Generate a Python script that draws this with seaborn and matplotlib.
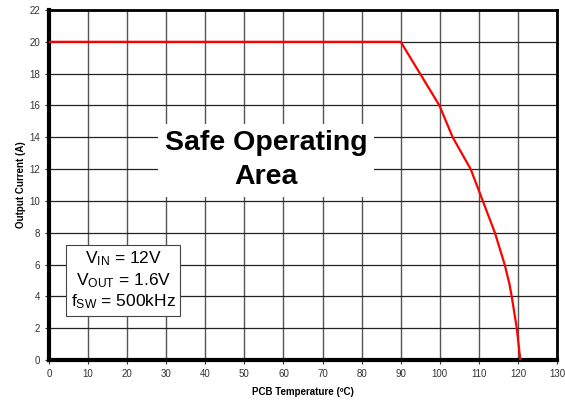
import numpy as np
import pandas as pd
import matplotlib.pyplot as plt
import seaborn as sns

# derating curve
temp_c = [0, 90, 99.9, 103.3, 107.9, 111.0, 114.1, 116.6, 117.8, 118.4, 119.7, 120.6]
current_a = [20, 20, 16, 14, 12, 10, 8, 6, 4.8, 4, 2, 0]
x_ticks = list(range(0, 131, 10))
y_ticks = list(range(0, 23, 2))

df = pd.DataFrame({'temp': temp_c, 'current': current_a})

sns.set_style('white')
plt.rcParams['font.family'] = ['Liberation Sans', 'DejaVu Sans']
plt.rcParams['mathtext.fontset'] = 'custom'
plt.rcParams['mathtext.rm'] = 'Liberation Sans'
plt.rcParams['text.color'] = 'black'
plt.rcParams['axes.labelcolor'] = 'black'

fig = plt.figure(figsize=(5.65, 4.0), dpi=100)
ax = fig.add_axes([0.0867, 0.1, 0.8992, 0.875])

sns.lineplot(x='temp', y='current', data=df, ax=ax, color='#ff0000',
             linewidth=1.6, sort=False, zorder=3)

ax.set_xlim(0, 130)
ax.set_ylim(0, 22)
ax.set_xticks(x_ticks)
ax.set_yticks(y_ticks)
ax.grid(True, axis='x', color='#555555', linewidth=1.0)
ax.grid(True, axis='y', color='#222222', linewidth=0.9)
ax.set_axisbelow(True)

for side in ['top', 'right']:
    ax.spines[side].set_linewidth(2.0)
    ax.spines[side].set_color('black')
for side in ['left', 'bottom']:
    ax.spines[side].set_linewidth(3.0)
    ax.spines[side].set_color('black')

ax.tick_params(axis='both', labelsize=7, colors='#333333', length=3,
               width=0.8, direction='out', bottom=True, left=True)
ax.set_xlabel('PCB Temperature (ºC)', fontsize=7, fontweight='bold', labelpad=6)
ax.set_ylabel('Output Current (A)', fontsize=7, fontweight='bold', labelpad=2)

ax.text(55.5, 12.55, 'Safe Operating\nArea', fontsize=20.5, fontweight='bold',
        ha='center', va='center', linespacing=1.4, zorder=4,
        bbox=dict(facecolor='white', edgecolor='none', pad=5))

cond = (r'$\mathregular{V_{IN}}$ = 12V' + '\n' +
        r'$\mathregular{V_{OUT}}$ = 1.6V' + '\n' +
        r'$\mathregular{f_{SW}}$ = 500kHz')
ax.text(19.0, 5.0, cond, fontsize=12.5, ha='center', va='center',
        linespacing=1.2, zorder=4,
        bbox=dict(facecolor='white', edgecolor='#444444', linewidth=0.8,
                  boxstyle='square,pad=0.25'))

fig.savefig('out.png', dpi=100)
